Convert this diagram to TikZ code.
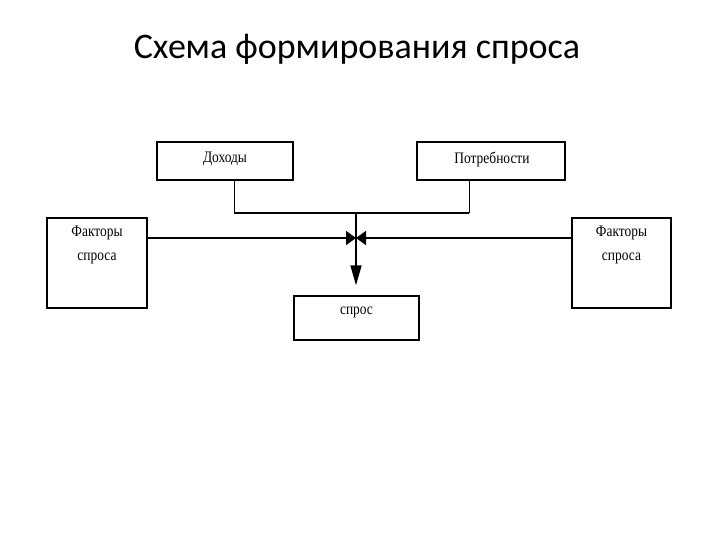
\documentclass[tikz,border=0pt]{standalone}
\usepackage{fontspec}
\setmainfont{Liberation Serif}
\newfontfamily\titlefont{Carlito}
\newfontfamily\boxfont[FakeStretch=0.84]{Liberation Serif}
\usetikzlibrary{arrows.meta, positioning}

\tikzset{
  box/.style={draw=black, line width=1.4pt, minimum width=#1, inner sep=0pt},
  boxtext/.style={font=\boxfont\fontsize{16}{24}\selectfont},
  link/.style={draw=black, line width=0.8pt},
  flow/.style={draw=black, line width=1.8pt}
}

\begin{document}
\begin{tikzpicture}[x=1pt, y=-1pt]
  % page frame 720 x 540
  \useasboundingbox (0,0) rectangle (720,540);
  % Title
  \node[font=\titlefont\fontsize{36}{40}\selectfont] (title) at (357,49) {Схема формирования спроса};
  % Top boxes
  \node[box=136pt, minimum height=38pt] (income) at (225,161) {};
  \node[boxtext] (incometxt) at (225,159) {Доходы};
  \node[box=148pt, minimum height=38pt] (needs) at (491,161) {};
  \node[boxtext] (needstxt) at (492,159) {Потребности};
  % Side boxes (text set near the top)
  \node[box=100pt, minimum height=90pt] (factl) at (97,263) {};
  \node[boxtext, align=center, below=5pt of factl.north] (factltxt) {Факторы\\спроса};
  \node[box=99pt, minimum height=90pt] (factr) at (621.5,263) {};
  \node[boxtext, align=center, below=5pt of factr.north] (factrtxt) {Факторы\\спроса};
  % Result box
  \node[box=125pt, minimum height=44pt] (demand) at (356.5,318) {};
  \node[boxtext, below=8pt of demand.north] (demandtxt) {спрос};
  % Junction points
  \coordinate (jl) at (234,213);
  \coordinate (jr) at (469,213);
  \coordinate (jc) at (356,213);
  \coordinate (mid) at (356,238);
  % Links from top boxes
  \draw[link] (income.south -| jl) -- (jl);
  \draw[link] (needs.south -| jr) -- (jr);
  \draw[flow] (jl) -- (jr);
  % Side factors meeting in the middle
  \draw[flow, -{Triangle[length=10pt, width=14pt]}] (factl.east |- mid) -- (mid);
  \draw[flow, -{Triangle[length=10pt, width=14pt]}] (factr.west |- mid) -- (mid);
  % Down to demand
  \draw[flow, -{Triangle[length=20pt, width=11pt]}, shorten >=10pt] (jc) -- (demand.north -| jc);
\end{tikzpicture}
\end{document}
